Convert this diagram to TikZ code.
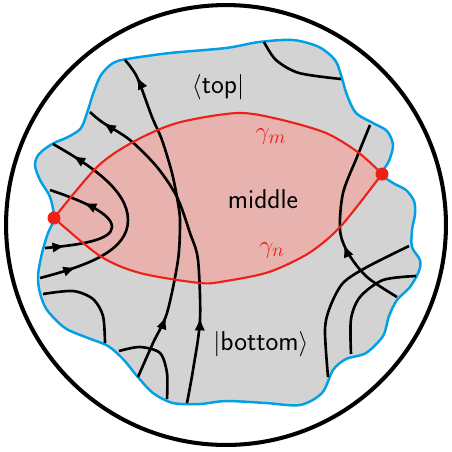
\documentclass[tikz,border=0pt]{standalone}
\usetikzlibrary{arrows.meta,decorations.markings}
\definecolor{blobgray}{RGB}{211,211,211}
\definecolor{lensred}{RGB}{232,179,175}
\definecolor{curvered}{RGB}{236,32,22}
\definecolor{edgeblue}{RGB}{0,160,230}
\tikzset{
  flow/.style={line width=1.5pt},
  midarrow/.style={postaction={decorate,decoration={markings,
      mark=at position #1 with {\arrow{Latex[length=7.5pt,width=6pt]}}}}},
  txt/.style={font=\sffamily\fontsize{15.5}{18}\selectfont}
}
\begin{document}
\begin{tikzpicture}[x=0.02cm, y=-0.02cm]
  \useasboundingbox (0,0) rectangle (452,451);

  % outer disc
  \draw[line width=2.3pt] (226,225) circle[radius=4.4cm];

  % region
  \filldraw[fill=blobgray, draw=edgeblue, line width=1.4pt] plot[smooth cycle] coordinates {
    (127,59) (170,53) (226,48) (259,42) (293,40) (319,47) (335,60) (341,75)
    (347,95) (356,113) (373,123) (387,131) (393,145) (389,161) (382,174)
    (393,183) (406,190) (414,201) (415,214) (412,230) (412,247) (420,260)
    (419,271) (410,287) (397,300) (389,316) (383,336) (366,353) (346,359)
    (333,370) (322,393) (300,405) (266,403) (226,401) (200,404) (173,403)
    (153,393) (137,376) (123,359) (108,346) (88,338) (65,328) (47,310)
    (40,293) (38,276) (42,253) (48,233) (54,218) (50,197) (40,180) (35,165)
    (39,154) (52,144) (68,137) (81,128) (88,110) (93,94) (101,75) (113,63)};

  \coordinate (left) at (54,218);
  \coordinate (right) at (382,174);

  % middle
  \fill[lensred] plot[smooth] coordinates {(left) (97,167) (133,142) (177,123)
      (237,113) (278,119) (326,133) (359,153) (right)}
    -- plot[smooth] coordinates {(right) (341,226) (309,253) (269,272)
      (226,281) (200,283) (140,273) (100,256) (left)} -- cycle;

  % flow lines
  \draw[flow, midarrow=0.2, midarrow=0.94] plot[smooth] coordinates {
    (138,377) (153,343) (167,313) (178,260) (180,222) (178,203) (172,173)
    (162,140) (152,117) (137,77) (125,60)};
  \draw[flow, midarrow=0.26, midarrow=0.95] plot[smooth] coordinates {
    (187,403) (193,370) (200,320) (198,260) (190,233) (177,197) (157,167)
    (130,140) (102,122) (90,112)};
  \draw[flow, midarrow=0.17, midarrow=0.9] (40,278) .. controls (90,265) and (128,250) .. (128,220)
    .. controls (128,190) and (90,165) .. (53,144);
  \draw[flow, midarrow=0.14, midarrow=0.76] (45,248) .. controls (80,245) and (112,240) .. (112,227)
    .. controls (112,213) and (80,200) .. (50,190);
  \draw[flow, midarrow=0.38] plot[smooth] coordinates {
    (397,297) (367,277) (348,253) (340,230) (343,193) (357,157) (370,125)};
  \draw[flow] plot[smooth] coordinates {(43,294) (73,291) (93,299) (103,316) (105,343)};
  \draw[flow] plot[smooth] coordinates {(119,351) (140,347) (160,353) (167,373) (167,399)};
  \draw[flow] plot[smooth] coordinates {(264,42) (276,60) (299,73) (341,79)};
  \draw[flow] plot[smooth] coordinates {(409,246) (367,267) (343,283) (330,307) (325,330) (328,377)};
  \draw[flow] plot[smooth] coordinates {(416,276) (383,280) (360,297) (351,319) (351,354)};

  % boundary of middle
  \draw[curvered, line width=1.2pt] plot[smooth] coordinates {(left) (97,167) (133,142)
      (177,123) (237,113) (278,119) (326,133) (359,153) (right)};
  \draw[curvered, line width=1.2pt] plot[smooth] coordinates {(right) (341,226) (309,253)
      (269,272) (226,281) (200,283) (140,273) (100,256) (left)};
  \fill[curvered] (left) circle[radius=0.13cm];
  \fill[curvered] (right) circle[radius=0.13cm];

  % labels
  \node[txt] (top) at (218,87) {$\langle$top$|$};
  \node[txt] (mid) at (263,199) {middle};
  \node[txt, curvered] (gm) at (271,137) {$\gamma_m$};
  \node[txt, curvered] (gn) at (272,250) {$\gamma_n$};
  \node[txt] (bot) at (261,344) {$|$bottom$\rangle$};
\end{tikzpicture}
\end{document}
